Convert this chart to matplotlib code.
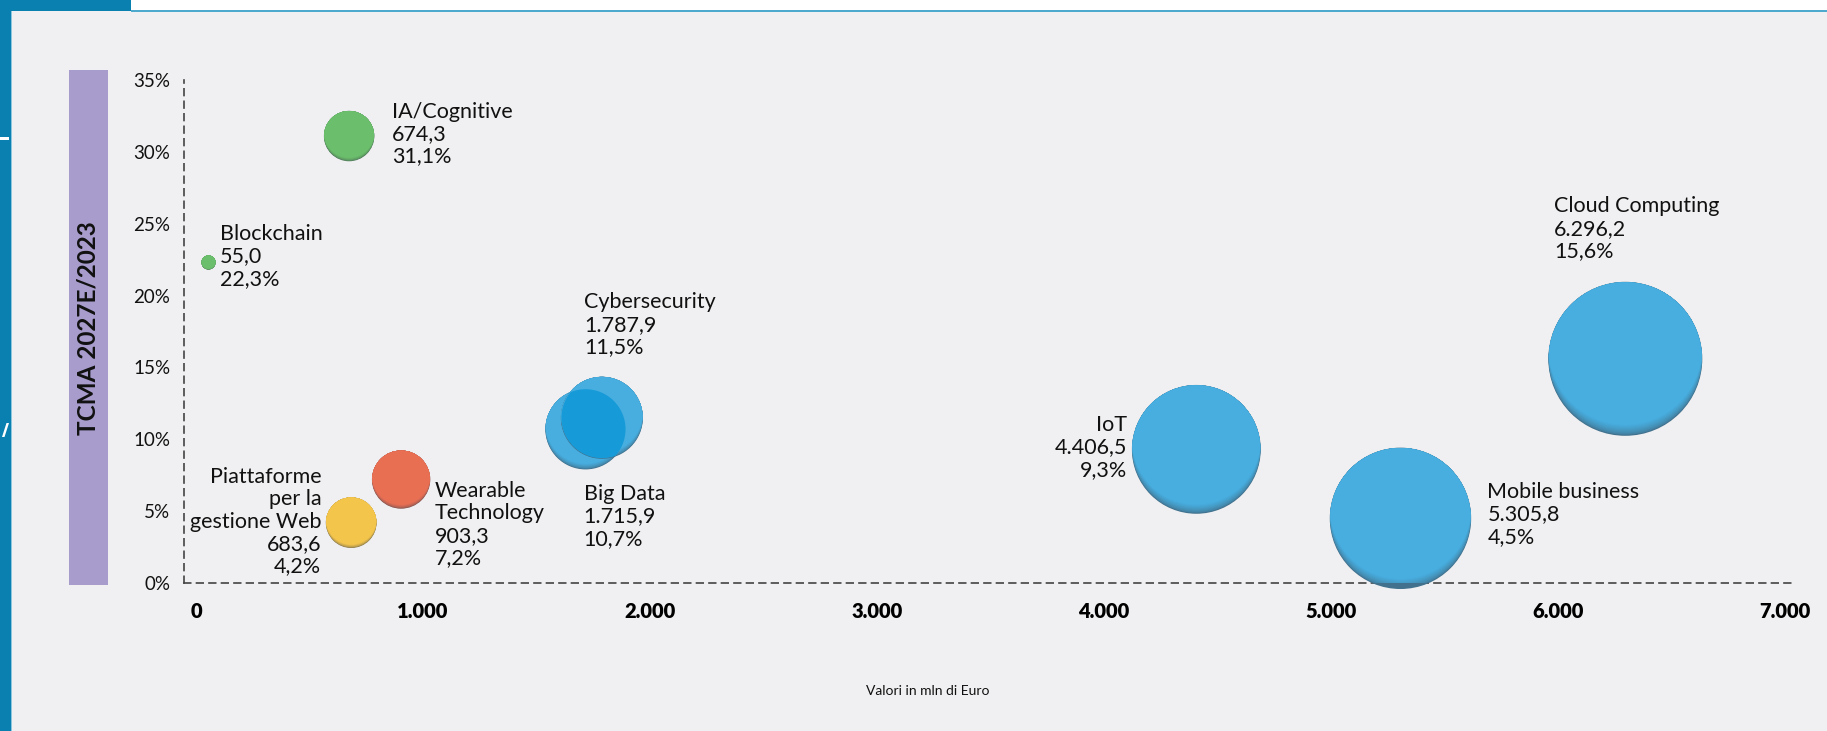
import numpy as np
import matplotlib
matplotlib.use("Agg")
import matplotlib.pyplot as plt
from matplotlib.patches import Rectangle, Circle, Polygon
from matplotlib.transforms import ScaledTranslation
from matplotlib.ticker import FuncFormatter
import matplotlib.colors as mcolors

plt.rcParams['font.family'] = ['Lato', 'DejaVu Sans']

# ---------------- data ----------------
names = ['Blockchain', 'IA/Cognitive', 'Piattaforme\nper la\ngestione Web',
         'Wearable\nTechnology', 'Big Data', 'Cybersecurity', 'IoT',
         'Mobile business', 'Cloud Computing']
values = [55.0, 674.3, 683.6, 903.3, 1715.9, 1787.9, 4406.5, 5305.8, 6296.2]
growth = [22.3, 31.1, 4.2, 7.2, 10.7, 11.5, 9.3, 4.5, 15.6]
x_ticks = [0, 1000, 2000, 3000, 4000, 5000, 6000, 7000]
y_ticks = [0, 5, 10, 15, 20, 25, 30, 35]
y_title = 'TCMA 2027E/2023'
x_title = 'Valori in mln di Euro'

# ---------------- styles ----------------
GREEN, YELLOW, RED, BLUE = '#6BBE6B', '#F4C54B', '#E96F53', '#47AEDF'
bubble_colors = [GREEN, GREEN, YELLOW, RED, BLUE, BLUE, BLUE, BLUE, BLUE]
# label offsets in pixels relative to bubble centre, and alignment
label_offsets = [(11, 6), (43, 2), (-30, 1), (34, -45), (-2, -87),
                 (-18, 93), (-69, 2), (87, 4), (-71, 130)]
label_ha = ['left', 'left', 'right', 'left', 'left', 'left', 'right', 'left', 'left']

W, H, DPI = 1827, 731, 100
BG = '#F0F0F2'
DARKBLUE = '#0A80B0'


def fmt_it(v, dec=1):
    s = f"{v:,.{dec}f}"
    return s.replace(',', 'X').replace('.', ',').replace('X', '.')


fig = plt.figure(figsize=(W / DPI, H / DPI), dpi=DPI, facecolor=BG)


def px_rect(x, y, w, h, color, z=0):
    fig.patches.append(Rectangle((x / W, 1 - (y + h) / H), w / W, h / H,
                                 transform=fig.transFigure, facecolor=color,
                                 edgecolor='none', zorder=z))


# decorative frame
px_rect(0, 0, W, 11, 'white')
px_rect(131, 10, W - 131, 1.5, '#4EA9CF')
px_rect(0, 0, 131, 11, DARKBLUE)
px_rect(0, 0, 10.5, H, DARKBLUE)
px_rect(10.5, 11, 1.2, H, '#8CC6DE')
px_rect(0, 137, 9, 3, 'white')
fig.patches.append(Polygon([(2 / W, 1 - 437 / H), (4.5 / W, 1 - 437 / H),
                            (9 / W, 1 - 423 / H), (6.5 / W, 1 - 423 / H)],
                           closed=True, transform=fig.transFigure,
                           facecolor='white', edgecolor='none'))
# purple bar for the y title
px_rect(69, 70, 39, 515, '#A89CCC')
fig.text(88.5 / W, 1 - 328 / H, y_title, rotation=90, ha='center', va='center',
         fontsize=17.5, fontweight='bold', color='#111111')

ax = fig.add_axes([184 / W, 1 - 583 / H, 1609 / W, 503 / H])
ax.set_facecolor('none')
ax.set_xlim(-53, 7035)
ax.set_ylim(0, 35)
for s in ['top', 'right']:
    ax.spines[s].set_visible(False)
for s in ['left', 'bottom']:
    ax.spines[s].set_linestyle((0, (4, 3.5)))
    ax.spines[s].set_color('#444444')
    ax.spines[s].set_linewidth(1.2)
ax.set_xticks(x_ticks)
ax.set_yticks(y_ticks)
ax.xaxis.set_major_formatter(FuncFormatter(lambda v, p: fmt_it(v, 0)))
ax.yaxis.set_major_formatter(FuncFormatter(lambda v, p: f"{int(v)}%"))
ax.tick_params(axis='both', length=0)
ax.tick_params(axis='y', pad=10, labelsize=13.5, labelcolor='#111111')
ax.tick_params(axis='x', pad=14, labelsize=14.5, labelcolor='#000000')
for t in ax.get_xticklabels():
    t.set_fontweight('heavy')

fig.text(928 / W, 1 - 691 / H, x_title, ha='center', va='center',
         fontsize=10, color='#111111')

# bubble size: area proportional to value
SIZE_K = (2 * 77 * 0.72) ** 2 / 6296.2
N_LAYERS = 10
SHIFT_MAX = 0.14


def shade_color(c, t):
    rgb = np.array(mcolors.to_rgb(c))
    dark = 0.42 * rgb + 0.58 * np.array([0.24, 0.27, 0.32])
    return tuple(dark * (1 - t) + rgb * t)


clips = []
for i, (v, g, c) in enumerate(zip(values, growth, bubble_colors)):
    s = v * SIZE_K
    r_pt = np.sqrt(s) / 2
    clip = Circle((0, 0), r_pt / 72 * 0.995,
                  transform=fig.dpi_scale_trans + ScaledTranslation(v, g, ax.transData))
    clips.append(clip)
    z0 = 3 + i * 0.01
    ax.scatter([v], [g], s=s, color=shade_color(c, 0.0), edgecolors='none',
               zorder=z0, clip_on=False)
    for k in range(1, N_LAYERS + 1):
        t = k / N_LAYERS
        d = r_pt * SHIFT_MAX * t
        tr = ax.transData + ScaledTranslation(0, d / 72, fig.dpi_scale_trans)
        sc = ax.scatter([v], [g], s=s, color=shade_color(c, t ** 0.6),
                        edgecolors='none', transform=tr, zorder=z0 + k * 0.0001)
        sc.set_clip_path(clip)

# overlap lens between Big Data and Cybersecurity
bd = names.index('Big Data')
cy = names.index('Cybersecurity')
lens = ax.scatter([values[cy]], [growth[cy]], s=values[cy] * SIZE_K * 0.97,
                  color='#169AD8', edgecolors='none', zorder=4)
lens.set_clip_path(clips[bd])

# labels
for i, (n, v, g) in enumerate(zip(names, values, growth)):
    txt = f"{n}\n{fmt_it(v)}\n{fmt_it(g)}%"
    dx, dy = label_offsets[i]
    ax.annotate(txt, xy=(v, g), xytext=(dx, dy), textcoords='offset pixels',
                ha=label_ha[i], va='center', multialignment=label_ha[i],
                fontsize=15.5, color='#111111', linespacing=1.15,
                annotation_clip=False, zorder=6)

fig.savefig('out.png', dpi=DPI, facecolor=BG)
